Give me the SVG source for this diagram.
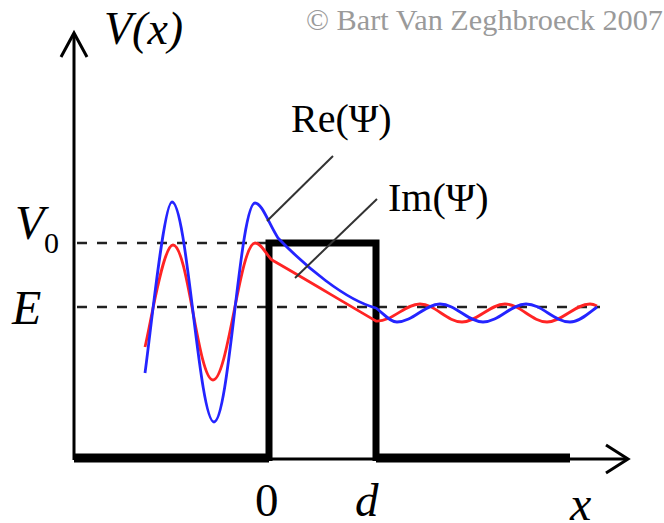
<svg xmlns="http://www.w3.org/2000/svg" width="664" height="523" viewBox="0 0 664 523">
<style>
.ax{fill:none;stroke:#000;stroke-width:3}
.pot{fill:none;stroke:#000;stroke-miterlimit:10}
.dash{fill:none;stroke:#222;stroke-width:2.5;stroke-dasharray:10 10}
.re{fill:none;stroke:#2424ff;stroke-width:2.8;stroke-linejoin:round}
.im{fill:none;stroke:#ff2424;stroke-width:2.8;stroke-linejoin:round}
.ptr{stroke:#333;stroke-width:2}
.t{font-family:'Liberation Serif','Times New Roman',serif;fill:#000}
.it{font-style:italic}
.cr{fill:#9a9a9a}
</style>
<rect width="664" height="523" fill="#fff"/>
<g id="axes">
<line class="ax" x1="74" y1="460" x2="74" y2="34"/>
<polyline class="ax" points="61,57 74,33 87,57"/>
<line class="ax" x1="74" y1="459" x2="627" y2="459"/>
<polyline class="ax" points="606,445 628,459 606,473"/>
</g>
<g id="levels">
<line class="dash" x1="77" y1="243" x2="269" y2="243"/>
<line class="dash" x1="77" y1="307" x2="600" y2="307"/>
</g>
<g id="potential">
<line class="pot" x1="74" y1="458" x2="269" y2="458" stroke-width="9"/>
<line class="pot" x1="376" y1="458" x2="570" y2="458" stroke-width="9"/>
<polyline class="pot" points="269,461 269,243 376,243 376,461" stroke-width="7"/>
</g>
<g id="wave-im">
<path class="im" d="M145,347 C151,322 163,245 173,245 C188,245 198,380 213,380 C228,380 240,243 255,243 C262,243 266,255 272,260 C300,276 340,300 376,321 C392,322 405,304 420,304 C435,304 447,322 462,322 C477,322 490,304 505,304 C520,304 532,322 547,322 C562,322 575,304 590,304 C593,304 595,305 597,306"/>
</g>
<g id="wave-re">
<path class="re" d="M145,373 C151,329 164,202 172,202 C187,202 199,422 214,422 C229,422 240,203 255,203 C262,203 268,222 278,238 C305,266 345,300 376,308 C384,314 390,322 397,322 C413,322 425,304 440,304 C456,304 468,322 483,322 C499,322 511,304 526,304 C542,304 554,322 570,322 C580,322 590,312 597,307"/>
</g>
<g id="connectors">
<line class="ptr" x1="267" y1="221" x2="333" y2="156"/>
<line class="ptr" x1="295" y1="278" x2="377" y2="199"/>
</g>
<g id="label-vx"><text class="t it" x="104" y="44" font-size="46">V(x)</text></g>
<g id="label-v0"><text class="t it" x="15" y="239" font-size="48">V</text><text class="t" x="44" y="253" font-size="30">0</text></g>
<g id="label-e"><text class="t it" x="12" y="324" font-size="48">E</text></g>
<g id="label-0"><text class="t" x="255" y="516" font-size="47">0</text></g>
<g id="label-d"><text class="t it" x="355" y="516" font-size="47">d</text></g>
<g id="label-x"><text class="t it" x="570" y="520" font-size="48">x</text></g>
<g id="label-re"><text class="t" x="291" y="132" font-size="40">Re(Ψ)</text></g>
<g id="label-im"><text class="t" x="388" y="211" font-size="40">Im(Ψ)</text></g>
<g id="copyright"><text class="t cr" x="306" y="30" font-size="30" font-family="Liberation Serif, serif" textLength="357" lengthAdjust="spacingAndGlyphs">© Bart Van Zeghbroeck 2007</text></g>
</svg>
